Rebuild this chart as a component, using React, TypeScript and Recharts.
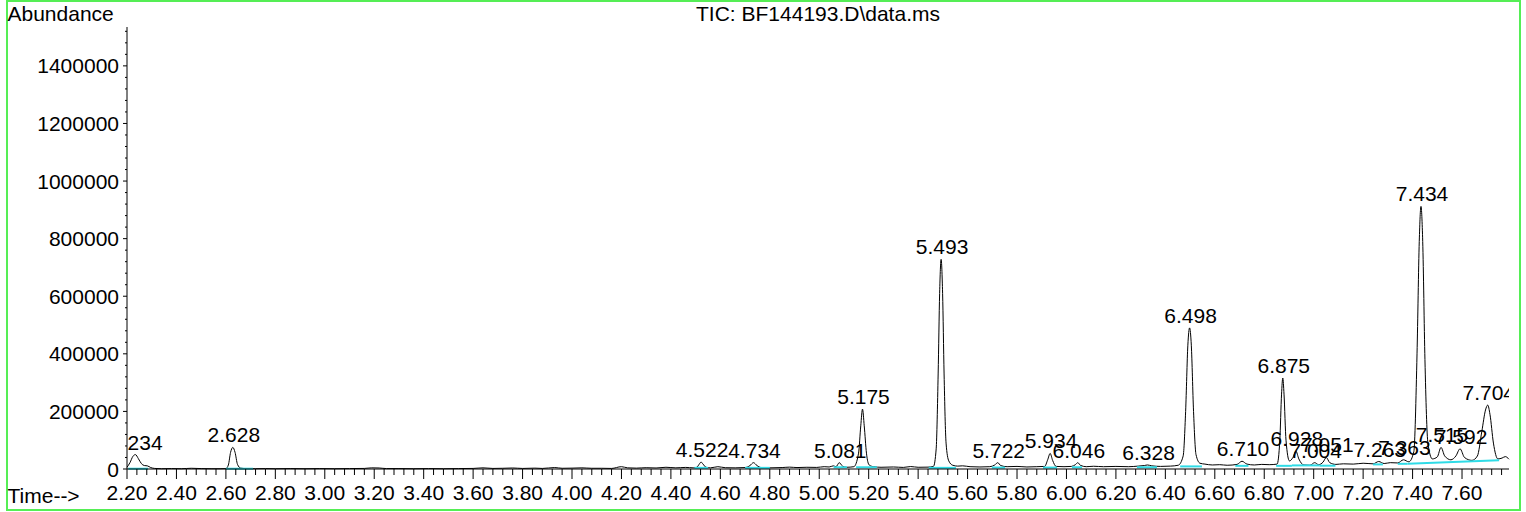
import React from "react";
import { LineChart, Line, XAxis, YAxis, ReferenceLine } from "recharts";

const FONT = "'Liberation Sans', Arial, Helvetica, sans-serif";
const FS = 21;

const TITLE = "TIC: BF144193.D\\data.ms";
const Y_TITLE = "Abundance";
const X_TITLE = "Time-->";

// retention time (min) of each trace sample
const traceTimes = [
  2.2, 2.212, 2.224, 2.234, 2.246, 2.258, 2.27, 2.282, 2.296, 2.312, 2.34, 2.38, 2.42, 2.46, 2.5, 2.54, 2.58,
  2.6, 2.61, 2.619, 2.628, 2.637, 2.647, 2.66, 2.68, 2.72, 2.76, 2.8, 2.86, 2.92, 2.98, 3.04, 3.1, 3.16, 3.19,
  3.22, 3.25, 3.3, 3.36, 3.42, 3.48, 3.54, 3.6, 3.64, 3.68, 3.72, 3.76, 3.8, 3.85, 3.88, 3.93, 3.96, 4.0, 4.04,
  4.08, 4.12, 4.16, 4.2, 4.225, 4.26, 4.3, 4.34, 4.38, 4.42, 4.46, 4.49, 4.505, 4.514, 4.522, 4.53, 4.542, 4.56,
  4.59, 4.62, 4.66, 4.7, 4.72, 4.734, 4.748, 4.765, 4.8, 4.85, 4.88, 4.91, 4.95, 4.99, 5.02, 5.04, 5.057, 5.068,
  5.081, 5.094, 5.11, 5.14, 5.159, 5.168, 5.175, 5.182, 5.191, 5.202, 5.22, 5.25, 5.3, 5.34, 5.37, 5.4, 5.44,
  5.462, 5.473, 5.481, 5.487, 5.493, 5.499, 5.505, 5.513, 5.524, 5.54, 5.56, 5.58, 5.61, 5.65, 5.69, 5.71, 5.722,
  5.734, 5.76, 5.8, 5.84, 5.88, 5.912, 5.924, 5.934, 5.944, 5.958, 5.99, 6.02, 6.036, 6.046, 6.056, 6.08, 6.11,
  6.15, 6.2, 6.25, 6.29, 6.315, 6.328, 6.345, 6.38, 6.42, 6.452, 6.472, 6.482, 6.491, 6.498, 6.505, 6.514, 6.524,
  6.54, 6.56, 6.59, 6.62, 6.65, 6.69, 6.71, 6.73, 6.76, 6.79, 6.82, 6.852, 6.863, 6.87, 6.875, 6.88, 6.888,
  6.902, 6.916, 6.928, 6.94, 6.96, 6.985, 7.004, 7.02, 7.038, 7.051, 7.065, 7.09, 7.12, 7.16, 7.2, 7.24, 7.263,
  7.285, 7.31, 7.34, 7.363, 7.385, 7.405, 7.418, 7.427, 7.434, 7.441, 7.45, 7.462, 7.48, 7.5, 7.515, 7.53, 7.555,
  7.575, 7.592, 7.61, 7.64, 7.662, 7.68, 7.695, 7.704, 7.713, 7.727, 7.745, 7.762, 7.775, 7.79,
];

// total ion current at each sample
const traceAbund = [
  6000, 22000, 44000, 50000, 36000, 19000, 12000, 11000, 5000, 2000, 1000, 1500, 1000, 2500, 1500, 1000, 1000,
  1500, 14000, 58000, 75000, 58000, 16000, 3000, 1500, 1000, 1500, 1000, 1500, 1000, 1500, 1000, 1500, 2000, 4000,
  3500, 1500, 1500, 1000, 1500, 1000, 1500, 2000, 4000, 2000, 2500, 3500, 2000, 3000, 2000, 5000, 2500, 3000, 4000,
  2500, 2500, 2000, 8000, 4000, 3000, 4500, 3500, 6000, 4000, 5500, 4000, 6000, 16000, 24000, 17000, 6000, 4000,
  8000, 4500, 4000, 5000, 12000, 22000, 12000, 5000, 4000, 5000, 6500, 5000, 6000, 5500, 8000, 7000, 11000, 8000,
  22000, 10000, 6000, 8000, 55000, 150000, 208000, 150000, 55000, 14000, 8000, 6000, 7000, 5500, 8500, 6000, 6500,
  9000, 70000, 330000, 610000, 728000, 610000, 330000, 90000, 28000, 13000, 10000, 11000, 8000, 7000, 8000, 14000, 22000,
  12000, 8000, 9000, 7000, 8000, 9000, 32000, 54000, 30000, 9000, 8000, 9000, 15000, 22000, 13000, 8000, 9500,
  8000, 9000, 8000, 10000, 12000, 14000, 11000, 9000, 10000, 13000, 45000, 200000, 430000, 490000, 430000, 200000, 50000,
  20000, 17000, 14000, 15000, 13000, 16000, 27000, 17000, 14000, 16000, 15000, 17000, 100000, 260000, 316000, 260000, 100000,
  28000, 40000, 62000, 35000, 14000, 13000, 22000, 15000, 24000, 40000, 22000, 16000, 18000, 17000, 20000, 18000, 26000,
  19000, 22000, 21000, 32000, 25000, 60000, 400000, 790000, 912000, 790000, 380000, 90000, 35000, 42000, 75000, 45000, 32000,
  45000, 70000, 40000, 30000, 45000, 130000, 205000, 222000, 190000, 90000, 35000, 38000, 43000, 34000,
];

// labelled peaks (apex retention time and abundance)
const peakTimes = [
  2.234, 2.628, 4.522, 4.734, 5.081, 5.175, 5.493, 5.722, 5.934, 6.046, 6.328, 6.498,
  6.71, 6.875, 6.928, 7.004, 7.051, 7.263, 7.363, 7.434, 7.515, 7.592, 7.704,
];
const peakAbund = [
  50000, 75000, 24000, 22000, 22000, 208000, 728000, 22000, 54000, 22000, 14000, 490000,
  27000, 316000, 62000, 22000, 40000, 26000, 32000, 912000, 75000, 70000, 222000,
];

// integration baselines: start/end time and abundance
const baseStart = [2.205, 2.6, 4.495, 4.7, 5.058, 5.149, 5.443, 5.698, 5.905, 6.022, 6.285, 6.46, 6.683, 6.848, 6.912, 7.024, 7.24, 7.34, 7.38];
const baseEnd = [2.285, 2.71, 4.55, 4.8, 5.112, 5.233, 5.553, 5.752, 5.962, 6.063, 6.366, 6.548, 6.736, 6.912, 7.024, 7.088, 7.28, 7.38, 7.75];
const baseFrom = [1000, 1000, 4000, 4000, 6000, 6000, 4000, 5000, 5000, 6000, 6000, 9000, 11000, 11000, 12500, 11500, 16000, 18000, 18000];
const baseTo = [1000, 1000, 4000, 4000, 6000, 6000, 4000, 5000, 5000, 6000, 6000, 9000, 11000, 11000, 12500, 11500, 16000, 18000, 30000];

const X_DOMAIN: [number, number] = [2.2, 7.79];
const Y_DOMAIN: [number, number] = [0, 1535000];

const xTicks = Array.from({ length: 140 }, (_, k) => Math.round((2.2 + k * 0.04) * 100) / 100);
const yTicks = Array.from({ length: 39 }, (_, k) => k * 40000);

const trace = traceTimes.map((t, i) => ({ t, a: traceAbund[i] }));
const peaks = peakTimes.map((t, i) => ({ t, a: peakAbund[i], label: t.toFixed(3) }));

// plot area, from the chart margins and axis sizes below
const PLOT_LEFT = 127;
const PLOT_RIGHT = 1509;
const PLOT_BOTTOM = 469;

const XTick = (props: any) => {
  const { x, y, payload } = props;
  const v = payload.value as number;
  const major = Math.round(v * 100) % 20 === 0;
  return (
    <g>
      <line x1={x} x2={x} y1={y} y2={y + (major ? 10 : 6)} stroke="#000" strokeWidth={1} />
      {major && (
        <text x={x} y={y + 31} textAnchor="middle" fontSize={FS} fontFamily={FONT} fill="#000">
          {v.toFixed(2)}
        </text>
      )}
    </g>
  );
};

const YTick = (props: any) => {
  const { x, y, payload } = props;
  const v = payload.value as number;
  const major = v % 200000 === 0;
  return (
    <g>
      <line x1={x - (major ? 4 : 2)} x2={x} y1={y} y2={y} stroke="#000" strokeWidth={1} />
      {major && (
        <text x={x - 8} y={y + 7.5} textAnchor="end" fontSize={FS} fontFamily={FONT} fill="#000">
          {v}
        </text>
      )}
    </g>
  );
};

const renderPeakLabel = (props: any) => {
  const { cx, cy, payload, index } = props;
  if (cx == null || cy == null) return <g key={`pk-${index}`} />;
  const id = `peak-clip-${index}`;
  return (
    <g key={`pk-${index}`}>
      <defs>
        <clipPath id={id}>
          <rect x={PLOT_LEFT} y={0} width={PLOT_RIGHT - PLOT_LEFT} height={PLOT_BOTTOM} />
        </clipPath>
      </defs>
      <text
        x={cx + 1}
        y={cy - 5}
        textAnchor="middle"
        fontSize={FS}
        fontFamily={FONT}
        fill="#000"
        clipPath={`url(#${id})`}
      >
        {payload.label}
      </text>
    </g>
  );
};

export default function App() {
  return (
    <div style={{ position: "absolute", left: 0, top: 0, width: 1526, height: 512, background: "#fff" }}>
      <div
        style={{
          position: "absolute",
          left: 6,
          top: 0,
          width: 1515,
          height: 511,
          boxSizing: "border-box",
          border: "2px solid #55ee55",
        }}
      />
      <div style={{ position: "absolute", left: 0, top: 0 }}>
        <LineChart width={1526} height={512} data={trace} margin={{ top: 27, right: 17, bottom: 0, left: 0 }}>
          <XAxis
            dataKey="t"
            type="number"
            domain={X_DOMAIN}
            ticks={xTicks}
            interval={0}
            height={43}
            tickSize={0}
            tickMargin={0}
            tickLine={false}
            axisLine={{ stroke: "#000" }}
            tick={XTick}
          />
          <YAxis
            type="number"
            domain={Y_DOMAIN}
            ticks={yTicks}
            interval={0}
            width={127}
            tickSize={0}
            tickMargin={0}
            tickLine={false}
            axisLine={{ stroke: "#000" }}
            tick={YTick}
          />
          <Line
            dataKey="a"
            type="monotone"
            stroke="#000"
            strokeWidth={1}
            dot={false}
            activeDot={false}
            isAnimationActive={false}
          />
          {baseStart.map((s, i) => (
            <ReferenceLine
              key={`bl-${i}`}
              segment={[
                { x: s, y: baseFrom[i] },
                { x: baseEnd[i], y: baseTo[i] },
              ]}
              stroke="#2fdbe6"
              strokeWidth={2}
              ifOverflow="visible"
            />
          ))}
          <Line
            data={peaks}
            dataKey="a"
            stroke="none"
            dot={renderPeakLabel}
            activeDot={false}
            isAnimationActive={false}
            legendType="none"
          />
        </LineChart>
      </div>
      <svg
        width={1526}
        height={512}
        style={{ position: "absolute", left: 0, top: 0, pointerEvents: "none" }}
      >
        <text x={7.5} y={20.5} fontSize={FS} fontFamily={FONT} fill="#000">
          {Y_TITLE}
        </text>
        <text x={(PLOT_LEFT + PLOT_RIGHT) / 2} y={21} textAnchor="middle" fontSize={FS} fontFamily={FONT} fill="#000">
          {TITLE}
        </text>
        <text x={7.5} y={503} fontSize={FS} fontFamily={FONT} fill="#000">
          {X_TITLE}
        </text>
      </svg>
    </div>
  );
}
